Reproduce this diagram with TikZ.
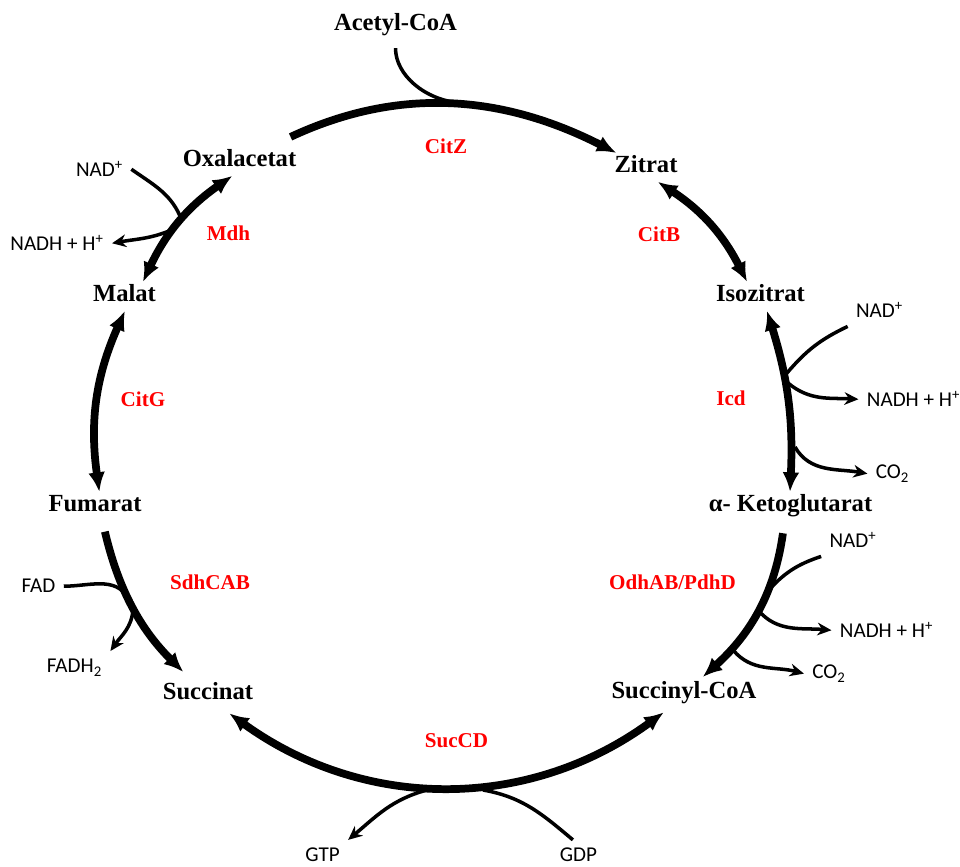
\documentclass[tikz,border=0pt]{standalone}
\usepackage{fontspec}
\setmainfont{Liberation Serif}
\newfontfamily\calibri{Carlito}
\usetikzlibrary{arrows.meta}

\begin{document}
\begin{tikzpicture}[x=0.025cm,y=0.025cm,
    met node/.style={font=\bfseries\fontsize{17.5}{20}\selectfont,text height=12pt,text depth=4pt,inner sep=2pt,anchor=base},
    enz node/.style={font=\bfseries\fontsize{15}{17}\selectfont,text=red,inner sep=0pt,anchor=base},
    cof node/.style={font=\calibri\fontsize{15}{18}\selectfont,inner sep=1pt,outer sep=5pt,anchor=base},
    main edge/.style={line width=5.5pt,>={Latex[length=14pt,width=12pt]}},
    side edge/.style={line width=2.5pt,>={Stealth[length=10pt,width=9pt]}}]

  \useasboundingbox (0,0) rectangle (960,867);

  % metabolites
  \node[met node] (acoa) at (395.5,836) {Acetyl-CoA};
  \node[met node] (oxal) at (239.5,700) {Oxalacetat};
  \node[met node] (zit) at (646,694) {Zitrat};
  \node[met node] (iso) at (760.5,565) {Isozitrat};
  \node[met node] (keto) at (790.5,355) {α- Ketoglutarat};
  \node[met node] (sucoa) at (684,168) {Succinyl-CoA};
  \node[met node] (succ) at (208,167) {Succinat};
  \node[met node] (fum) at (95,355) {Fumarat};
  \node[met node] (mal) at (124.5,565) {Malat};

  % enzymes
  \node[enz node] (citz) at (446,713) {CitZ};
  \node[enz node] (citb) at (659,625) {CitB};
  \node[enz node] (icd) at (731,461) {Icd};
  \node[enz node] (odh) at (672.5,277) {OdhAB/PdhD};
  \node[enz node] (succd) at (456.5,119) {SucCD};
  \node[enz node] (sdh) at (210,277) {SdhCAB};
  \node[enz node] (citg) at (143,460) {CitG};
  \node[enz node] (mdh) at (228.5,626) {Mdh};

  % cofactors
  \node[cof node] (nadM) at (99.5,690) {NAD\textsuperscript{+}};
  \node[cof node] (nadhM) at (57,616) {NADH + H\textsuperscript{+}};
  \node[cof node] (nadI) at (879.5,549) {NAD\textsuperscript{+}};
  \node[cof node] (nadhI) at (913.5,460) {NADH + H\textsuperscript{+}};
  \node[cof node] (co2I) at (892.5,388) {CO\textsubscript{2}};
  \node[cof node] (nadO) at (853,319) {NAD\textsuperscript{+}};
  \node[cof node] (nadhO) at (886.5,229) {NADH + H\textsuperscript{+}};
  \node[cof node] (co2O) at (829,188) {CO\textsubscript{2}};
  \node[cof node] (fad) at (38.5,274) {FAD};
  \node[cof node] (fadh) at (74.5,194) {FADH\textsubscript{2}};
  \node[cof node] (gtp) at (322.5,5) {GTP};
  \node[cof node] (gdp) at (578.5,5) {GDP};

  % where the side lines meet the cycle
  \coordinate (zJoin) at (460,764);
  \coordinate (mdhIn) at (182,646);
  \coordinate (mdhOut) at (176,639);
  \coordinate (icdIn) at (787,494);
  \coordinate (icdOut) at (788,484);
  \coordinate (icdCO) at (795,420);
  \coordinate (odhIn) at (767,275);
  \coordinate (odhOut) at (758,257);
  \coordinate (odhCO) at (733,217);
  \coordinate (sdhIn) at (128,269);
  \coordinate (sdhOut) at (133,257);
  \coordinate (sucIn) at (483,77);
  \coordinate (sucOut) at (427,77);

  \path[main edge]
  (oxal.26) edge [->,bend left=26,shorten <=17pt] (zit.154)
  (zit.-51) edge [<->,bend left=15] (iso.133)
  (iso.-66) edge [<->,bend left=10] (keto.92)
  (keto.-112) edge [->,bend left=20,shorten <=9pt,shorten >=2pt] (sucoa.41)
  (sucoa.-134) edge [<->,bend left=36,shorten <=5.5pt,shorten >=5.5pt] (succ.-44)
  (fum.-63) edge [->,bend right=16,shorten <=8pt,shorten >=8pt] (succ.139)
  (fum.73) edge [<->,bend left=16] (mal.-88)
  (mal.38) edge [<->,bend left=15] (oxal.-116);

  \path[side edge]
  (acoa.south) edge [shorten <=6pt,out=-90,in=175] (zJoin)
  (nadM.east) edge [out=-35,in=110] (mdhIn)
  (mdhOut) edge [->,out=205,in=10] (nadhM.east)
  (nadI.south west) edge [bend right=12] (icdIn)
  (icdOut) edge [->,out=-40,in=177] (nadhI.west)
  (icdCO) edge [->,out=-60,in=170] (co2I.west)
  (nadO.south west) edge [bend right=15] (odhIn)
  (odhOut) edge [->,out=-50,in=175] (nadhO.west)
  (odhCO) edge [->,out=-50,in=165] (co2O.west)
  (fad.east) edge [out=0,in=120] (sdhIn)
  (sdhOut) edge [->,out=-95,in=55] (fadh.north east)
  (sucOut) edge [->,out=195,in=40] (gtp.north east)
  (gdp.110) edge [out=140,in=-10] (sucIn);
\end{tikzpicture}
\end{document}
